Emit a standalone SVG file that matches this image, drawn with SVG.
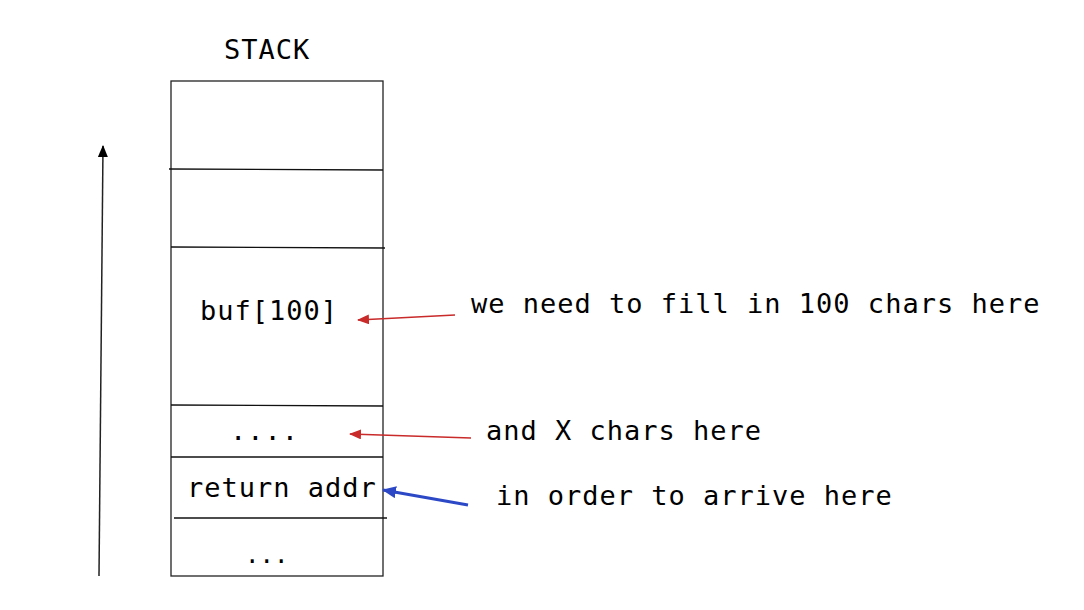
<svg xmlns="http://www.w3.org/2000/svg" width="1084" height="610" viewBox="0 0 1084 610">
<style>
.t{font-family:"DejaVu Sans Mono","Liberation Mono",monospace;font-size:27px;letter-spacing:1px;fill:#000}
.box{fill:none;stroke:#222;stroke-width:1.3}
.div{stroke:#111;stroke-width:1.3}
.red{stroke:#c92a2a;stroke-width:1.5;fill:none}
.blue{stroke:#2c48c7;stroke-width:3;fill:none}
.blk{stroke:#222;stroke-width:1.5;fill:none}
</style>
<defs>
<marker id="ar" viewBox="0 0 12 10" refX="11" refY="5" markerWidth="12" markerHeight="10" markerUnits="userSpaceOnUse" orient="auto"><path d="M0,0 L12,5 L0,10 Z" fill="#c92a2a"/></marker>
<marker id="ab" viewBox="0 0 14 12" refX="13" refY="6" markerWidth="14" markerHeight="12" markerUnits="userSpaceOnUse" orient="auto"><path d="M0,0 L14,6 L0,12 Z" fill="#2c48c7"/></marker>
<marker id="ak" viewBox="0 0 12 10" refX="11" refY="5" markerWidth="12" markerHeight="10" markerUnits="userSpaceOnUse" orient="auto"><path d="M0,0 L12,5 L0,10 Z" fill="#000"/></marker>
</defs>
<rect width="1084" height="610" fill="#fff"/>
<g id="title"><text class="t" x="224" y="59">STACK</text></g>
<g id="stack">
<rect class="box" x="171" y="81" width="212" height="495"/>
<line class="div" x1="169" y1="169" x2="383" y2="170"/>
<line class="div" x1="171" y1="247" x2="385" y2="248"/>
<line class="div" x1="171" y1="405" x2="383" y2="406"/>
<line class="div" x1="171" y1="457" x2="383" y2="457"/>
<line class="div" x1="174" y1="518" x2="387" y2="518"/>
</g>
<g id="buf"><text class="t" x="200" y="320">buf[100]</text></g>
<g id="pad"><text class="t" x="230" y="440">....</text></g>
<g id="ret"><text class="t" x="187" y="497">return addr</text></g>
<g id="more"><text class="t" x="245" y="563" style="font-size:24px;letter-spacing:0">...</text></g>
<g id="label1"><text class="t" x="471" y="313">we need to fill in 100 chars here</text></g>
<g id="label2"><text class="t" x="486" y="440">and X chars here</text></g>
<g id="label3"><text class="t" x="496" y="505">in order to arrive here</text></g>
<g id="connectors">
<line class="blk" x1="99" y1="576" x2="103" y2="146" marker-end="url(#ak)"/>
<line class="red" x1="455" y1="315" x2="358" y2="320" marker-end="url(#ar)"/>
<line class="red" x1="471" y1="438" x2="350" y2="434" marker-end="url(#ar)"/>
<line class="blue" x1="468" y1="505" x2="383" y2="490" marker-end="url(#ab)"/>
</g>
</svg>
